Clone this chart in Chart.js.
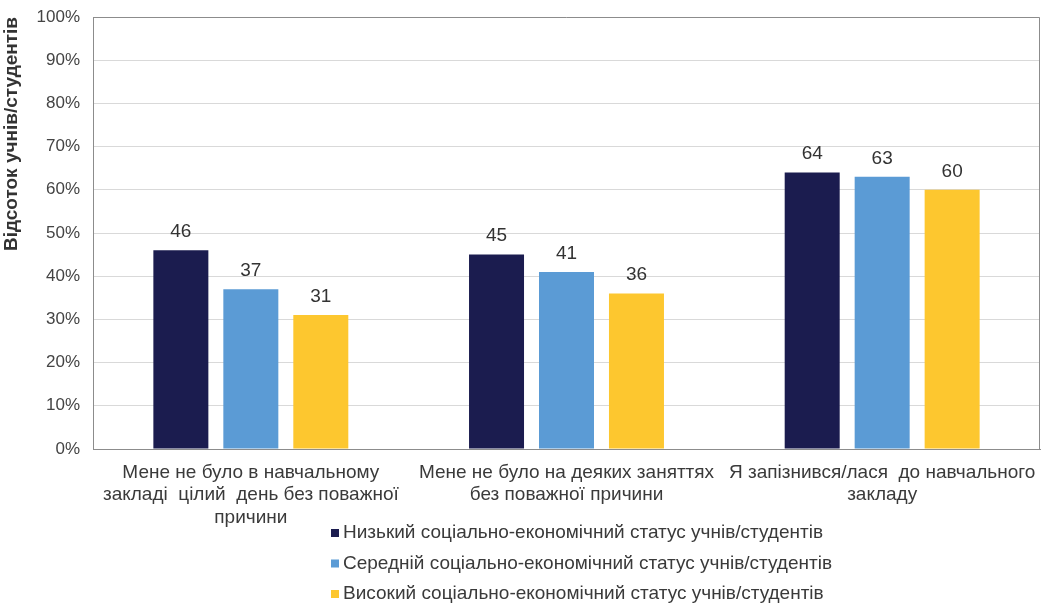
<!DOCTYPE html>
<html>
<head>
<meta charset="utf-8">
<script src="https://cdn.jsdelivr.net/npm/chart.js@4/dist/chart.umd.min.js"></script>
<style>
  html, body { margin: 0; padding: 0; background: #fff; }
  #wrap { width: 1042px; height: 605px; position: relative; }
</style>
</head>
<body>
<div id="wrap"><canvas id="chart"></canvas></div>
<script>
const categories = [
  ['Мене не було в навчальному', 'закладі  цілий  день без поважної', 'причини'],
  ['Мене не було на деяких заняттях', 'без поважної причини'],
  ['Я запізнився/лася  до навчального', 'закладу']
];
const seriesNames = [
  'Низький соціально-економічний статус учнів/студентів',
  'Середній соціально-економічний статус учнів/студентів',
  'Високий соціально-економічний статус учнів/студентів'
];
const lowValues = [46, 45, 64];
const midValues = [37, 41, 63];
const highValues = [31, 36, 60];
const yTicks = [0, 10, 20, 30, 40, 50, 60, 70, 80, 90, 100];

const colors = ['#1b1c4f', '#5b9bd5', '#fdc72f'];
const FONT = '"Liberation Sans", Arial, sans-serif';

// подписи значений над столбиками
const valueLabels = {
  id: 'valueLabels',
  afterDatasetsDraw(chart) {
    const ctx = chart.ctx;
    ctx.save();
    ctx.font = '19px ' + FONT;
    ctx.fillStyle = '#333';
    ctx.textAlign = 'center';
    ctx.textBaseline = 'bottom';
    chart.data.datasets.forEach((ds, i) => {
      chart.getDatasetMeta(i).data.forEach((bar, j) => {
        ctx.fillText(ds.data[j], bar.x, bar.y - 9);
      });
    });
    ctx.restore();
  }
};

// рамка области построения
const frame = {
  id: 'frame',
  afterDraw(chart) {
    const a = chart.chartArea;
    const ctx = chart.ctx;
    ctx.save();
    ctx.strokeStyle = '#8c8c8c';
    ctx.lineWidth = 1;
    ctx.beginPath();
    ctx.moveTo(a.left + 0.5, a.bottom + 0.5);
    ctx.lineTo(a.left + 0.5, a.top + 0.5);
    ctx.lineTo(a.right - 0.5, a.top + 0.5);
    ctx.lineTo(a.right - 0.5, a.bottom + 0.5);
    ctx.lineTo(a.left + 0.5, a.bottom + 0.5);
    ctx.stroke();
    ctx.restore();
  }
};

// легенда в столбик под осью
const stackedLegend = {
  id: 'stackedLegend',
  afterDraw(chart) {
    const ctx = chart.ctx;
    ctx.save();
    ctx.font = '19px ' + FONT;
    ctx.textBaseline = 'middle';
    chart.data.datasets.forEach((ds, i) => {
      const y = 533 + i * 30.5;
      ctx.fillStyle = ds.backgroundColor;
      ctx.fillRect(331, y - 4, 8, 8);
      ctx.fillStyle = '#3a3a3a';
      ctx.fillText(ds.label, 343, y);
    });
    ctx.restore();
  }
};

new Chart(document.getElementById('chart'), {
  type: 'bar',
  data: {
    labels: categories,
    datasets: [
      { label: seriesNames[0], data: lowValues, backgroundColor: colors[0] },
      { label: seriesNames[1], data: midValues, backgroundColor: colors[1] },
      { label: seriesNames[2], data: highValues, backgroundColor: colors[2] }
    ]
  },
  options: {
    responsive: true,
    maintainAspectRatio: false,
    animation: false,
    layout: { padding: { top: 17, right: 2, left: 0, bottom: 0 } },
    datasets: { bar: { categoryPercentage: 0.665, barPercentage: 0.786 } },
    plugins: {
      legend: { display: false },
      tooltip: { enabled: false }
    },
    scales: {
      x: {
        grid: { display: false },
        border: { color: '#8c8c8c' },
        ticks: {
          color: '#3a3a3a',
          font: { family: FONT, size: 19, lineHeight: 1.2 },
          padding: 4,
          maxRotation: 0,
          autoSkip: false
        },
        afterFit: s => { s.height = 156; }
      },
      y: {
        min: 0,
        max: 100,
        afterBuildTicks: s => { s.ticks = yTicks.map(v => ({ value: v })); },
        grid: { color: '#d9d9d9', drawTicks: false },
        border: { color: '#8c8c8c' },
        ticks: {
          color: '#444',
          font: { family: FONT, size: 17 },
          padding: 13,
          callback: v => v + '%'
        },
        title: {
          display: true,
          text: 'Відсоток учнів/студентів',
          align: 'end',
          color: '#333',
          font: { family: FONT, size: 19, weight: 'bold' },
          padding: { top: 0, bottom: 2 }
        },
        afterFit: s => { s.width = 93; s.paddingTop = 0; s.paddingBottom = 0; }
      }
    }
  },
  plugins: [valueLabels, frame, stackedLegend]
});
</script>
</body>
</html>
